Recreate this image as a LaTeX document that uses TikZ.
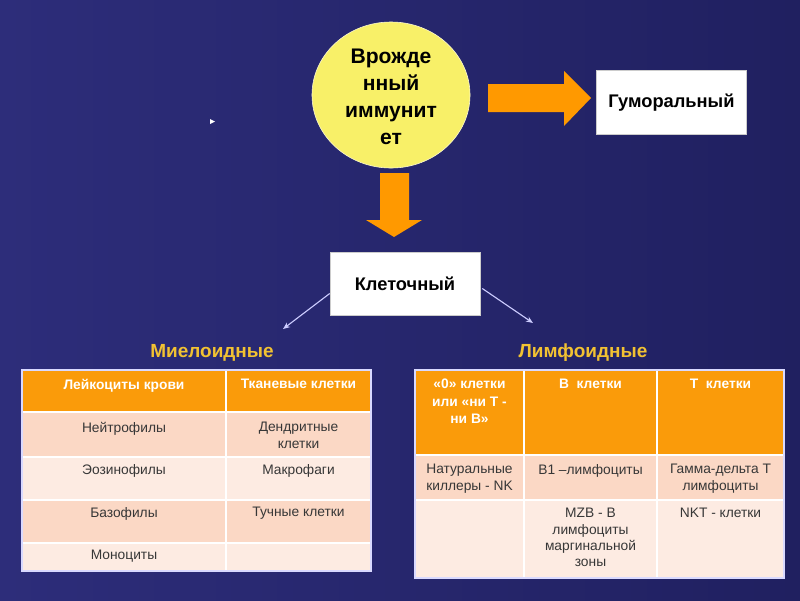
\documentclass[tikz,border=0pt]{standalone}
\usepackage{fontspec}
\setmainfont{Liberation Sans}
\usetikzlibrary{shapes.geometric,arrows.meta,calc}

\definecolor{bgdark}{RGB}{32,32,96}
\definecolor{bglight}{RGB}{45,45,122}
\definecolor{innate}{RGB}{248,240,104}
\definecolor{blockor}{RGB}{255,153,0}
\definecolor{hdror}{RGB}{250,155,10}
\definecolor{rowpeach}{RGB}{251,216,197}
\definecolor{rowpale}{RGB}{253,235,226}
\definecolor{labgold}{RGB}{242,194,50}
\definecolor{celltext}{RGB}{55,55,55}

\begin{document}
\begin{tikzpicture}[x=0.025cm,y=-0.025cm,
  box/.style={rectangle,fill=white,draw=white!80!black,minimum width=3.75cm,minimum height=1.6cm,font=\fontsize{13}{15}\selectfont\bfseries},
  hcell/.style={anchor=north,inner sep=0pt,align=center,text=white,font=\fontsize{9.8}{12.3}\selectfont\bfseries},
  bcell/.style={anchor=north,inner sep=0pt,align=center,text=celltext,font=\fontsize{9.8}{11.6}\selectfont},
  grouplab/.style={text=labgold,font=\fontsize{13.5}{15}\selectfont\bfseries},
  thinarr/.style={draw=white!80!blue,line width=0.8pt,-{Stealth[length=5pt,width=4pt]}},
  grid/.style={draw=white,line width=1.2pt}]

\useasboundingbox (0,0) rectangle (800,600);
\shade[left color=bglight,right color=bgdark] (0,0) rectangle (800,600);
\fill[white] (210,119) -- (215,121.5) -- (210,124) -- cycle;

\node [ellipse,fill=innate,draw=white!70!innate,minimum width=3.95cm,minimum height=3.65cm] (innate) at (391,95) {};
\node [align=center,inner sep=0pt,font=\fontsize{15}{19.2}\selectfont\bfseries] (innatetxt) at (391,97) {Врожде\\нный\\иммунит\\ет};

\node [box] (hum) at (671.5,102.5) {Гуморальный};
\node [box,minimum height=1.575cm] (kl) at (405,283.5) {Клеточный};

\fill[blockor] (488,84) -- (564,84) -- (564,71) -- (591,98) -- (564,126) -- (564,112) -- (488,112) -- cycle;
\fill[blockor] (380,173) -- (409,173) -- (409,220) -- (422,220) -- (394,237) -- (366,220) -- (380,220) -- cycle;

\coordinate (myelend) at (283,329);
\coordinate (lymphend) at (533,323);
\draw[thinarr] ($(kl.west)+(0,10)$) -- (myelend);
\draw[thinarr] ($(kl.east)+(2,5)$) -- (lymphend);

\node [grouplab] (myel) at (212,353) {Миелоидные};
\node [grouplab] (lymph) at (583,353) {Лимфоидные};

% left table
\fill[hdror] (22,370) rectangle (371,412);
\fill[rowpeach] (22,412) rectangle (371,457);
\fill[rowpale] (22,457) rectangle (371,500);
\fill[rowpeach] (22,500) rectangle (371,543);
\fill[rowpale] (22,543) rectangle (371,571);
\draw[grid] (226,370) -- (226,571);
\draw[grid,line width=2pt] (22,412) -- (371,412);
\draw[grid] (22,457) -- (371,457) (22,500) -- (371,500) (22,543) -- (371,543);
\draw[white!85!blue,line width=0.8pt] (22,370) rectangle (371,571);

\node [hcell] (lk) at (124,379) {Лейкоциты крови};
\node [hcell] (tk) at (298.5,379) {Тканевые клетки};
\node [bcell] (neu) at (124,422) {Нейтрофилы};
\node [bcell] (den) at (298.5,422) {Дендритные\\клетки};
\node [bcell] (eos) at (124,464) {Эозинофилы};
\node [bcell] (mac) at (298.5,464) {Макрофаги};
\node [bcell] (bas) at (124,507) {Базофилы};
\node [bcell] (mast) at (298.5,507) {Тучные клетки};
\node [bcell] (mon) at (124,550) {Моноциты};

% right table
\fill[hdror] (415,370) rectangle (784,455);
\fill[rowpeach] (415,455) rectangle (784,500);
\fill[rowpale] (415,500) rectangle (784,578);
\draw[grid] (524,370) -- (524,578) (657,370) -- (657,578);
\draw[grid,line width=2pt] (415,455) -- (784,455);
\draw[grid] (415,500) -- (784,500);
\draw[white!85!blue,line width=0.8pt] (415,370) rectangle (784,578);

\node [hcell] (zero) at (469.5,379) {«0» клетки\\или «ни Т -\\ни В»};
\node [hcell] (bcl) at (590.5,379) {В\ \ клетки};
\node [hcell] (tcl) at (720.5,379) {Т\ \ клетки};
\node [bcell] (nk) at (469.5,464) {Натуральные\\киллеры - NK};
\node [bcell] (b1) at (590.5,464) {В1 –лимфоциты};
\node [bcell] (gd) at (720.5,464) {Гамма-дельта Т\\лимфоциты};
\node [bcell] (mzb) at (590.5,508) {MZB - В\\лимфоциты\\маргинальной\\зоны};
\node [bcell] (nkt) at (720.5,508) {NKT - клетки};

\end{tikzpicture}
\end{document}
